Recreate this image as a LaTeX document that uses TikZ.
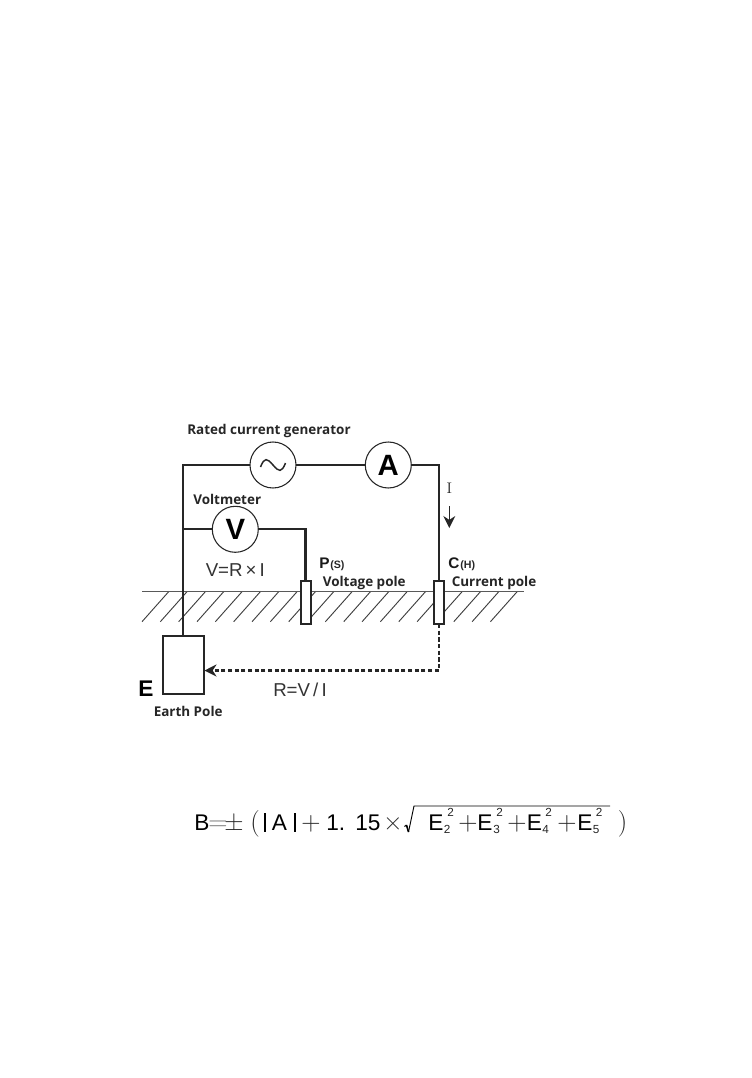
\documentclass[tikz,border=0pt]{standalone}
\usepackage{fontspec}
\usetikzlibrary{arrows.meta,calc}
\newfontfamily\lblfont{Open Sans}
\newfontfamily\arialfont{Liberation Sans}
\newcommand{\fsz}[1]{\fontsize{#1}{#1}\selectfont}
\tikzset{
  wire/.style={line width=1.6pt,draw=black!85},
  meter/.style={circle,draw=black!85,line width=0.8pt,minimum size=34.5pt,inner sep=0pt,outer sep=0pt,fill=white},
  polebox/.style={rectangle,draw=black!85,line width=1.5pt,fill=white,minimum width=7.5pt,minimum height=32pt,inner sep=0pt,outer sep=0pt},
  earthbox/.style={rectangle,draw=black!85,line width=1.6pt,fill=white,minimum width=31pt,minimum height=43.7pt,inner sep=0pt,outer sep=0pt},
  hatch/.style={line width=0.7pt,draw=black!75},
  lbl/.style={inner sep=0pt,anchor=base west,font=\lblfont\bfseries\fsz{10.1},text=black!85},
  eqn/.style={inner sep=0pt,anchor=base west,font=\arialfont\fsz{14},text=black!80},
  fm/.style={inner sep=0pt,anchor=base west,font=\arialfont\fsz{17},text=black},
  fop/.style={inner sep=0pt,anchor=base west,font=\fsz{20},text=black!85},
  fsm/.style={inner sep=0pt,anchor=base west,font=\arialfont\fsz{8.8},text=black!85},
}
\begin{document}
\begin{tikzpicture}[x=0.75pt,y=-0.75pt]
\path[use as bounding box,fill=white] (0,0) rectangle (752,1078);
% ground
\coordinate (gl) at (142,591.3);
\coordinate (gr) at (524,591.3);
\foreach \k in {0,...,19}
  \draw[hatch] ({142+18.34*\k},621.7) -- ({169+18.34*\k},591.3);
\draw[line width=0.9pt,black!65] (gl) -- (gr);
% parts
\node[meter] (gen) at (273,465) {};
\node[meter,font=\arialfont\bfseries\fsz{22}] (amm) at (388.3,465) {A};
\node[meter,font=\arialfont\bfseries\fsz{22}] (volt) at (235.3,529.3) {V};
\node[polebox] (ppole) at (305.5,602.7) {};
\node[polebox] (cpole) at (439,602.7) {};
\node[earthbox] (earth) at (183.4,665.2) {};
\coordinate (eport) at (204.5,670.5);
\coordinate (ia) at (449.3,506);
\coordinate (ib) at (449.3,528);
% wires
\draw[wire] (gen.west) -| (earth.north);
\draw[wire] (gen.east) -- (amm.west);
\draw[wire] (amm.east) -| (cpole.north);
\draw[wire] (volt.west) -- (volt.west -| earth.north);
\draw[wire] (volt.east) -| (ppole.north);
\draw[wire,dash pattern=on 3.2pt off 1.8pt,-{Stealth[length=9pt,width=9pt]}] (cpole.south) |- (eport);
\draw[line width=0.9pt,black!85,-{Stealth[length=9pt,width=9pt]}] (ia) -- (ib);
% tilde
\draw[line width=1.1pt,black!85] (gen.center) ++(-12.5,2) .. controls +(4,-10) and +(-6,-7) .. ++(12.5,-2) .. controls +(6,7) and +(-4,10) .. ++(12.5,-2);
% labels
\node[lbl] (tgen) at (187,434.5) {Rated current generator};
\node[lbl] (tvolt) at (193,504) {Voltmeter};
\node[lbl] (tvp) at (322.5,586.5) {Voltage pole};
\node[lbl] (tcp) at (451.5,586.5) {Current pole};
\node[lbl] (tep) at (153.5,716) {Earth Pole};
\node[inner sep=0pt,anchor=base west,font=\arialfont\bfseries\fsz{11.5},text=black!90] (tp) at (319,568) {P};
\node[inner sep=0pt,anchor=base west,font=\arialfont\bfseries\fsz{8},text=black!85] (tps) at (330,568) {(S)};
\node[inner sep=0pt,anchor=base west,font=\arialfont\bfseries\fsz{11.5},text=black!90] (tc) at (448,568) {C};
\node[inner sep=0pt,anchor=base west,font=\arialfont\bfseries\fsz{8},text=black!85] (th) at (460,568) {(H)};
\node[inner sep=0pt,anchor=base west,font=\arialfont\bfseries\fsz{17},text=black] (te) at (138,696) {E};
\node[inner sep=0pt,font=\fsz{11.5},text=black!85] (ti) at (449.3,488) {I};
\node[eqn] (tvri) at (205.5,576) {V=R\,×\,I};
\node[eqn] (trvi) at (273,696) {R=V\,/\,I};
% formula
\node[fm] (fb) at (194,830.5) {B};
\node[fop,text=black!55] (feq) at (208,830.5) {=};
\node[fop] (fpm) at (224,830.5) {±};
\node[fop] (flp) at (250,830) {(};
\node[fm] (fa) at (271.5,830.5) {A};
\draw[line width=1.2pt,black] (265,813) -- (265,832);
\draw[line width=0.8pt,black] (295,813) -- (295,832);
\node[fop] (fp0) at (301,830.5) {+};
\node[fm] (f1) at (326,830.5) {1.};
\node[fm] (f15) at (355,830.5) {15};
\node[fop] (fx) at (383,830.5) {×};
\draw[line width=0.8pt,black] (404.5,826.5) -- (406.5,825);
\draw[line width=1.2pt,black] (406.5,825) -- (408.5,832);
\draw[line width=0.7pt,black] (408.5,832) -- (414,806) -- (610,806);
\node[fm] (fe2) at (428,830.5) {E};
\node[fsm] (s2a) at (443.5,833) {2};
\node[fsm] (p2a) at (447,816) {2};
\node[fop] (fp1) at (458,830.5) {+};
\node[fm] (fe3) at (477,830.5) {E};
\node[fsm] (s3a) at (493,833) {3};
\node[fsm] (p3a) at (496,816) {2};
\node[fop] (fp2) at (507,830.5) {+};
\node[fm] (fe4) at (526.5,830.5) {E};
\node[fsm] (s4a) at (542,833) {4};
\node[fsm] (p4a) at (545,816) {2};
\node[fop] (fp3) at (557,830.5) {+};
\node[fm] (fe5) at (577,830.5) {E};
\node[fsm] (s5a) at (592.5,833) {5};
\node[fsm] (p5a) at (595.5,816) {2};
\node[fop] (frp) at (617.5,830) {)};
\end{tikzpicture}
\end{document}
